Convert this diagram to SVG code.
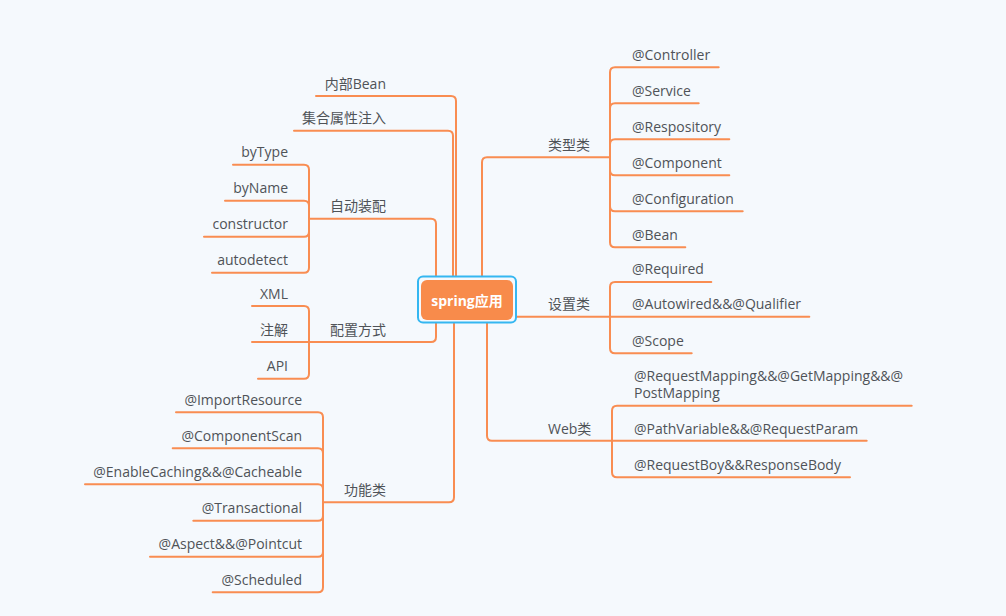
<svg xmlns="http://www.w3.org/2000/svg" width="1006" height="616" viewBox="0 0 1006 616">
<style>
.ln{fill:none;stroke:#f98d52;stroke-width:2;stroke-linecap:round}
.t{font-family:"Open Sans","Noto Sans CJK SC",sans-serif;font-size:14px;fill:#4f5358;dominant-baseline:central}
.e{text-anchor:end}
</style>
<rect width="1006" height="616" fill="#f5f9fd"/>
<g id="connectors">
<path class="ln" d="M482 300V162.3Q482 157.3 487 157.3H610"/>
<path class="ln" d="M490 316.7H610"/>
<path class="ln" d="M487 300V435.7Q487 440.7 492 440.7H612"/>
<path class="ln" d="M456 300V101Q456 96 451 96H316"/>
<path class="ln" d="M453 300V135.7Q453 130.7 448 130.7H294"/>
<path class="ln" d="M436 300V223.7Q436 218.7 431 218.7H309"/>
<path class="ln" d="M436 300V337Q436 342 431 342H309"/>
<path class="ln" d="M454 300V497.3Q454 502.3 449 502.3H323"/>
<path class="ln" d="M610 157.3V72.3Q610 67.3 615 67.3H718.7"/>
<path class="ln" d="M610 157.3V108.3Q610 103.3 615 103.3H698.7"/>
<path class="ln" d="M610 157.3V144.3Q610 139.3 615 139.3H729.3"/>
<path class="ln" d="M610 157.3V170.3Q610 175.3 615 175.3H729.3"/>
<path class="ln" d="M610 157.3V206.3Q610 211.3 615 211.3H742.7"/>
<path class="ln" d="M610 157.3V242.3Q610 247.3 615 247.3H685.3"/>
<path class="ln" d="M610 316.7V287Q610 282 615 282H711.3"/>
<path class="ln" d="M610 316.7H809.3"/>
<path class="ln" d="M610 316.7V348.3Q610 353.3 615 353.3H691.7"/>
<path class="ln" d="M612 440.7V410.7Q612 405.7 617 405.7H911.7"/>
<path class="ln" d="M612 440.7H866.7"/>
<path class="ln" d="M612 440.7V472.3Q612 477.3 617 477.3H850"/>
<path class="ln" d="M309 218.7V169.7Q309 164.7 304 164.7H233"/>
<path class="ln" d="M309 218.7V205.7Q309 200.7 304 200.7H225"/>
<path class="ln" d="M309 218.7V231.7Q309 236.7 304 236.7H204"/>
<path class="ln" d="M309 218.7V267.7Q309 272.7 304 272.7H212"/>
<path class="ln" d="M309 342V311Q309 306 304 306H252"/>
<path class="ln" d="M309 342H252"/>
<path class="ln" d="M309 342V373.7Q309 378.7 304 378.7H258"/>
<path class="ln" d="M323 502.3V417.3Q323 412.3 318 412.3H176"/>
<path class="ln" d="M323 502.3V453.3Q323 448.3 318 448.3H172.7"/>
<path class="ln" d="M323 502.3V489.3Q323 484.3 318 484.3H85"/>
<path class="ln" d="M323 502.3V515.7Q323 520.7 318 520.7H193.3"/>
<path class="ln" d="M323 502.3V551.7Q323 556.7 318 556.7H150"/>
<path class="ln" d="M323 502.3V587.3Q323 592.3 318 592.3H212.7"/>
</g>
<g id="center">
<rect x="418" y="276.5" width="98" height="46" rx="5" fill="#f5f9fd" stroke="#35b7f1" stroke-width="2"/>
<rect x="421" y="280" width="92" height="40" rx="6" fill="#f88b4b"/>
<text x="467" y="300" text-anchor="middle" dominant-baseline="central" font-family="'Open Sans','Noto Sans CJK SC',sans-serif" font-size="14" font-weight="bold" fill="#ffffff">spring应用</text>
</g>
<g id="n-neibubean"><text class="t e" x="386" y="83">内部Bean</text></g>
<g id="n-jihe"><text class="t e" x="386" y="117">集合属性注入</text></g>
<g id="n-zidong"><text class="t e" x="386" y="205">自动装配</text></g>
<g id="n-bytype"><text class="t e" x="288" y="151">byType</text></g>
<g id="n-byname"><text class="t e" x="288" y="187">byName</text></g>
<g id="n-constructor"><text class="t e" x="288" y="223">constructor</text></g>
<g id="n-autodetect"><text class="t e" x="288" y="259">autodetect</text></g>
<g id="n-peizhi"><text class="t e" x="386" y="329">配置方式</text></g>
<g id="n-xml"><text class="t e" x="288" y="293">XML</text></g>
<g id="n-zhujie"><text class="t e" x="288" y="329">注解</text></g>
<g id="n-api"><text class="t e" x="288" y="365">API</text></g>
<g id="n-gongneng"><text class="t e" x="386" y="489">功能类</text></g>
<g id="n-importresource"><text class="t e" x="302" y="399">@ImportResource</text></g>
<g id="n-componentscan"><text class="t e" x="302" y="435">@ComponentScan</text></g>
<g id="n-enablecaching"><text class="t e" x="302" y="471">@EnableCaching&amp;&amp;@Cacheable</text></g>
<g id="n-transactional"><text class="t e" x="302" y="507">@Transactional</text></g>
<g id="n-aspect"><text class="t e" x="302" y="543">@Aspect&amp;&amp;@Pointcut</text></g>
<g id="n-scheduled"><text class="t e" x="302" y="579">@Scheduled</text></g>
<g id="n-leixing"><text class="t" x="548" y="144">类型类</text></g>
<g id="n-controller"><text class="t" x="632" y="54">@Controller</text></g>
<g id="n-service"><text class="t" x="632" y="90">@Service</text></g>
<g id="n-respository"><text class="t" x="632" y="126">@Respository</text></g>
<g id="n-component"><text class="t" x="632" y="162">@Component</text></g>
<g id="n-configuration"><text class="t" x="632" y="198">@Configuration</text></g>
<g id="n-bean"><text class="t" x="632" y="234">@Bean</text></g>
<g id="n-shezhi"><text class="t" x="548" y="303">设置类</text></g>
<g id="n-required"><text class="t" x="632" y="268">@Required</text></g>
<g id="n-autowired"><text class="t" x="632" y="303">@Autowired&amp;&amp;@Qualifier</text></g>
<g id="n-scope"><text class="t" x="632" y="340">@Scope</text></g>
<g id="n-web"><text class="t" x="548" y="428">Web类</text></g>
<g id="n-requestmapping"><text class="t" x="634" y="375">@RequestMapping&amp;&amp;@GetMapping&amp;&amp;@</text><text class="t" x="634" y="392">PostMapping</text></g>
<g id="n-pathvariable"><text class="t" x="634" y="428">@PathVariable&amp;&amp;@RequestParam</text></g>
<g id="n-requestboy"><text class="t" x="634" y="464">@RequestBoy&amp;&amp;ResponseBody</text></g>
</svg>
